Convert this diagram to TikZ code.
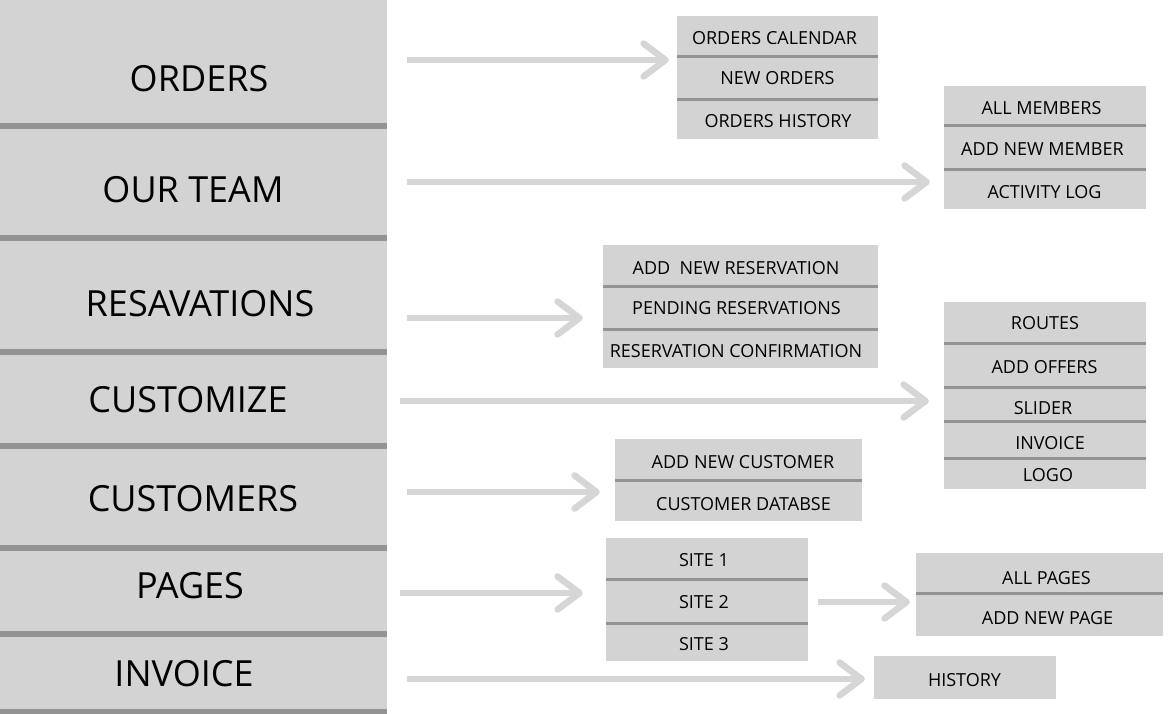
\documentclass[tikz,border=0pt]{standalone}
\usepackage{fontspec}
\setmainfont{Open Sans}
\usetikzlibrary{arrows.meta}
\definecolor{boxgray}{HTML}{D3D3D3}
\definecolor{sepgray}{HTML}{939393}
\definecolor{arrgray}{HTML}{D6D6D6}
\begin{document}
\begin{tikzpicture}[x=1pt,y=-1pt,
  menu/.style={font=\fontsize{36}{40}\selectfont, text=black, inner sep=0pt},
  item/.style={font=\fontsize{18}{20}\selectfont, text=black, inner sep=0pt},
  panel/.style={fill=boxgray, draw=none, inner sep=0pt},
  arr/.style={draw=arrgray, line width=6.5pt, -{Straight Barb[length=22pt,width=33pt,round]}},
  sep/.style={draw=sepgray, line width=3pt},
  bigsep/.style={draw=sepgray, line width=6pt}]
\useasboundingbox (0,0) rectangle (1174,714);
\fill[white] (0,0) rectangle (1174,714);

% left menu column
\fill[boxgray] (0,0) rectangle (387,714);
\foreach \yy in {126.5,238,352,446,548,634,712} \draw[bigsep] (0,\yy) -- (387,\yy);
\node[menu] (m1) at (199,78.5) {ORDERS};
\node[menu] (m2) at (193,190) {OUR TEAM};
\node[menu] (m3) at (200,304) {RESAVATIONS};
\node[menu] (m4) at (188,400) {CUSTOMIZE};
\node[menu] (m5) at (193,499) {CUSTOMERS};
\node[menu] (m6) at (190,586) {PAGES};
\node[menu] (m7) at (184,674) {INVOICE};

% orders box
\node[panel, minimum width=201pt, minimum height=123pt] (ordbox) at (777.5,77.5) {};
\draw[sep] (677,57) -- (878,57);
\draw[sep] (677,100) -- (878,100);
\node[item] (o1) at (774.5,38.5) {ORDERS CALENDAR};
\node[item] (o2) at (777.5,78.5) {NEW ORDERS};
\node[item] (o3) at (778,121.5) {ORDERS HISTORY};

% team box
\node[panel, minimum width=202pt, minimum height=123pt] (teambox) at (1045,147.5) {};
\draw[sep] (944,126) -- (1146,126);
\draw[sep] (944,170) -- (1146,170);
\node[item] (t1) at (1041.5,108.5) {ALL MEMBERS};
\node[item] (t2) at (1042.5,149.5) {ADD NEW MEMBER};
\node[item] (t3) at (1044.5,192.5) {ACTIVITY LOG};

% reservations box
\node[panel, minimum width=275pt, minimum height=123pt] (resbox) at (740.5,306.5) {};
\draw[sep] (603,286) -- (878,286);
\draw[sep] (603,329) -- (878,329);
\node[item] (r1) at (736,268.5) {ADD~~NEW RESERVATION};
\node[item] (r2) at (736.5,308.5) {PENDING RESERVATIONS};
\node[item] (r3) at (736,351.5) {RESERVATION CONFIRMATION};

% customize box
\node[panel, minimum width=202pt, minimum height=187pt] (cusbox) at (1045,395.5) {};
\foreach \yy in {343,387,421,458} \draw[sep] (944,\yy) -- (1146,\yy);
\node[item] (c1) at (1045,323.5) {ROUTES};
\node[item] (c2) at (1044.5,367) {ADD OFFERS};
\node[item] (c3) at (1043,408) {SLIDER};
\node[item] (c4) at (1050,443.5) {INVOICE};
\node[item] (c5) at (1048,475.5) {LOGO};

% customers box
\node[panel, minimum width=247pt, minimum height=82pt] (custbox) at (738.5,480) {};
\draw[sep] (615,480) -- (862,480);
\node[item] (u1) at (743,462.5) {ADD NEW CUSTOMER};
\node[item] (u2) at (743.5,504) {CUSTOMER DATABSE};

% sites box
\node[panel, minimum width=202pt, minimum height=123pt] (sitebox) at (707,599.5) {};
\draw[sep] (606,579) -- (808,579);
\draw[sep] (606,623) -- (808,623);
\node[item] (p1) at (704,560) {SITE 1};
\node[item] (p2) at (704,602) {SITE 2};
\node[item] (p3) at (704,644) {SITE 3};

% pages box
\node[panel, minimum width=247pt, minimum height=83pt] (pagebox) at (1039.5,594.5) {};
\draw[sep] (916,593) -- (1163,593);
\node[item] (g1) at (1046.5,578.5) {ALL PAGES};
\node[item] (g2) at (1047.5,618.5) {ADD NEW PAGE};

% history box
\node[panel, minimum width=182pt, minimum height=43pt] (histbox) at (965,677.5) {};
\node[item] (h1) at (964.5,680) {HISTORY};

% arrows
\coordinate (s1) at (407,60);
\coordinate (s2) at (407,182);
\coordinate (s3) at (407,318);
\coordinate (s4) at (400,401);
\coordinate (s5) at (407,492);
\coordinate (s6) at (400,593);
\coordinate (s7) at (818,602);
\coordinate (s8) at (407,679);
\draw[arr, shorten >=8pt] (s1) -- (s1 -| ordbox.west);
\draw[arr, shorten >=14pt] (s2) -- (s2 -| teambox.west);
\draw[arr, shorten >=20pt] (s3) -- (s3 -| resbox.west);
\draw[arr, shorten >=15pt] (s4) -- (s4 -| cusbox.west);
\draw[arr, shorten >=15pt] (s5) -- (s5 -| custbox.west);
\draw[arr, shorten >=23pt] (s6) -- (s6 -| sitebox.west);
\draw[arr, shorten >=6pt] (s7) -- (s7 -| pagebox.west);
\draw[arr, shorten >=9pt] (s8) -- (s8 -| histbox.west);
\end{tikzpicture}
\end{document}
